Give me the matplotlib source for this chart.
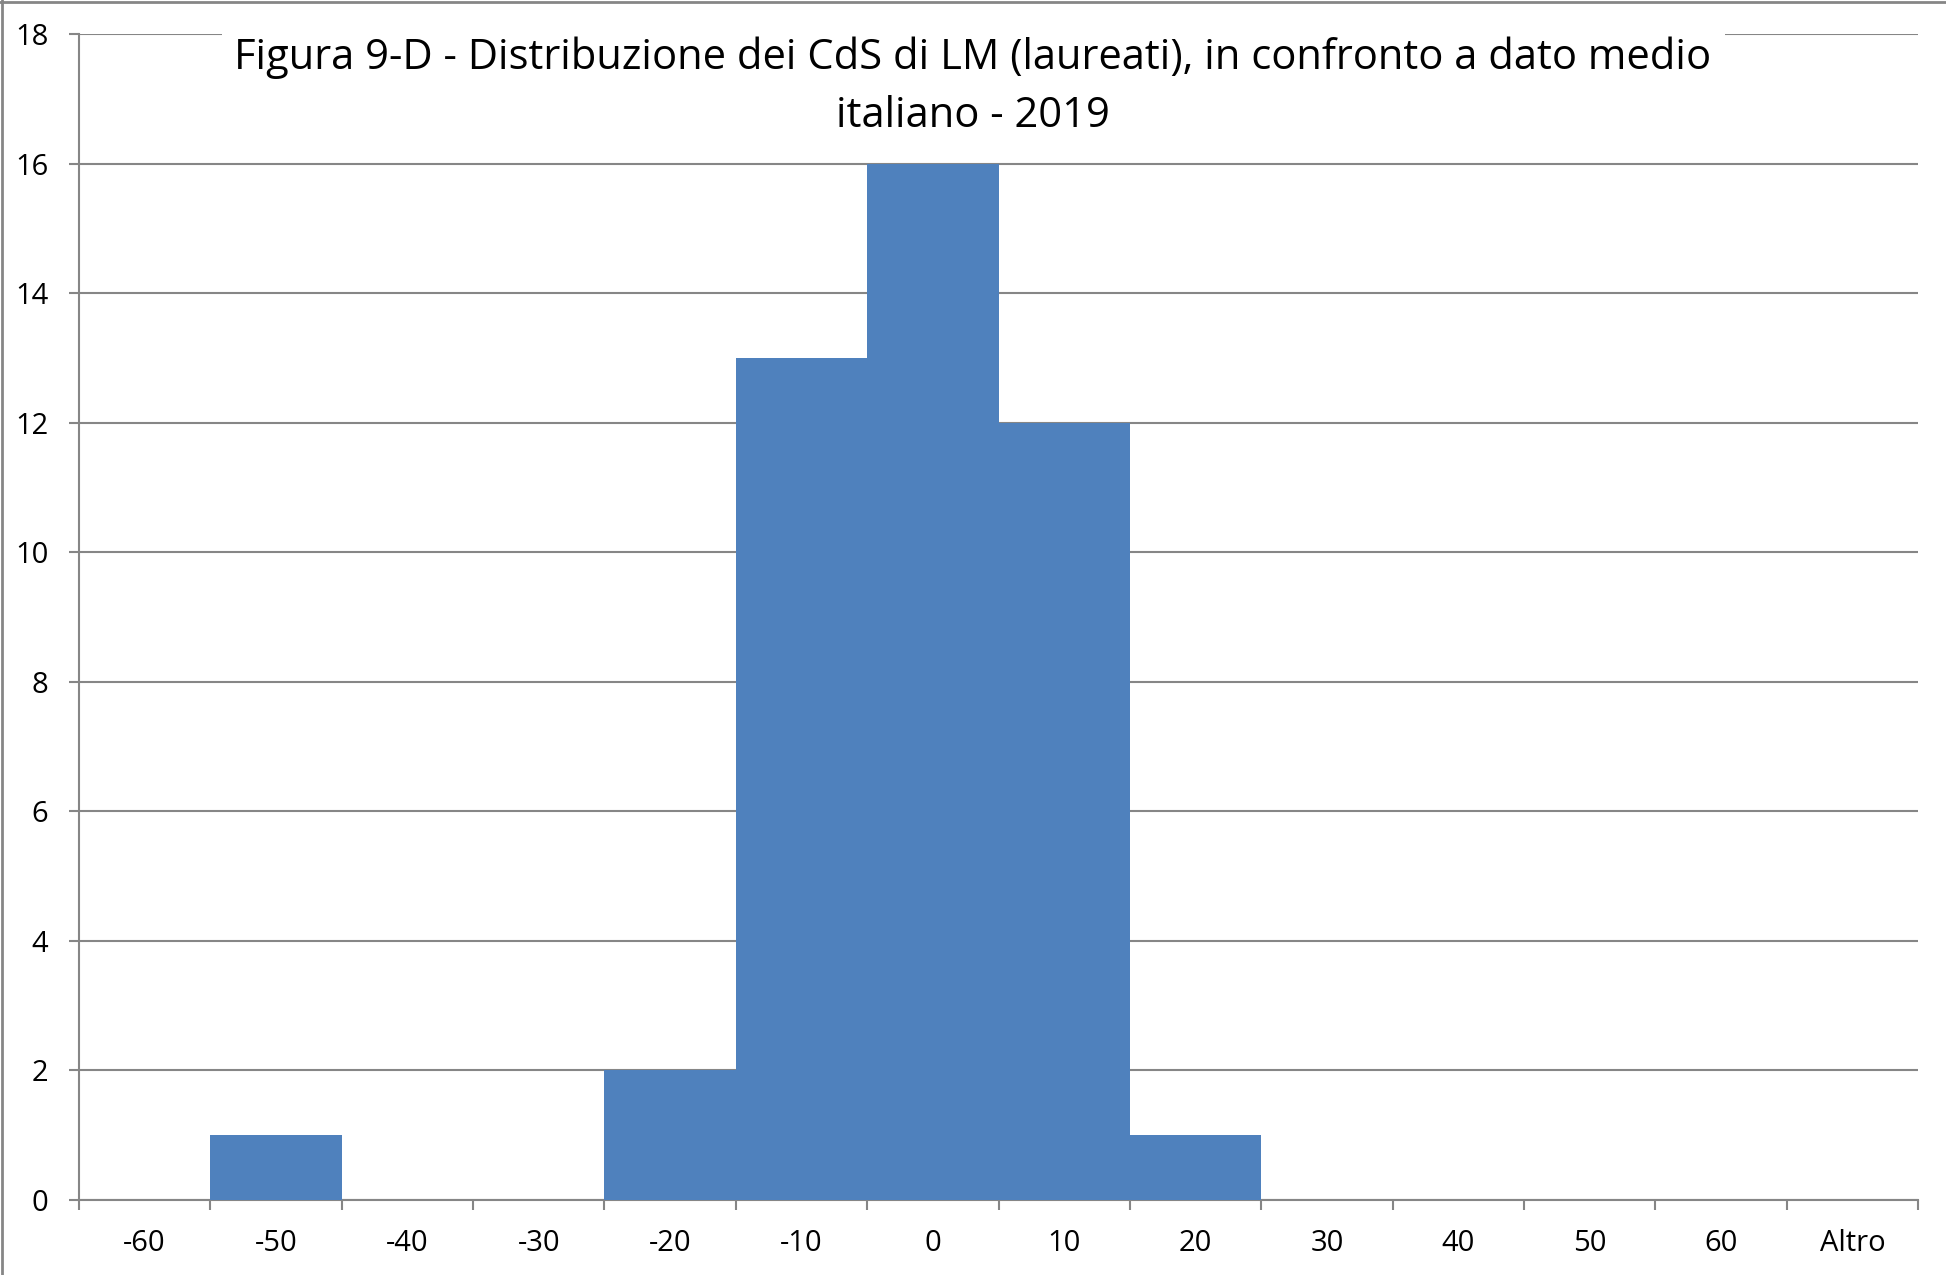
from matplotlib import pyplot as plt
from matplotlib.patches import Rectangle
from matplotlib.lines import Line2D

# dati dell'istogramma
categorie = ['-60', '-50', '-40', '-30', '-20', '-10', '0', '10', '20', '30', '40', '50', '60', 'Altro']
frequenze = [0, 1, 0, 0, 2, 13, 16, 12, 1, 0, 0, 0, 0, 0]
titolo = 'Figura 9-D - Distribuzione dei CdS di LM (laureati), in confronto a dato medio\nitaliano - 2019'

W, H = 1946, 1275
grigio = '#868686'
plt.rcParams['font.family'] = ['Open Sans', 'DejaVu Sans']

fig = plt.figure(figsize=(W / 100, H / 100), dpi=100)
ax = fig.add_axes([79 / W, 1 - 1200 / H, (1918 - 79) / W, (1200 - 34) / H])

x = range(len(categorie))
ax.bar(x, frequenze, width=1.0, color='#4F81BD', zorder=3)

ax.set_xlim(-0.5, len(categorie) - 0.5)
ax.set_ylim(0, 18)
ax.set_yticks(range(0, 19, 2))
ax.yaxis.grid(True, color=grigio, linewidth=1.5, zorder=0)
ax.set_axisbelow(True)

ax.set_xticks(list(x))
ax.set_xticklabels(categorie)
ax.set_xticks([i - 0.5 for i in range(len(categorie) + 1)], minor=True)
ax.tick_params(axis='x', which='major', length=0, pad=21, labelsize=21)
ax.tick_params(axis='x', which='minor', length=7, width=1.5, color=grigio)
ax.tick_params(axis='y', length=7, width=1.5, color=grigio, pad=15, labelsize=21)

for s in ['top', 'right']:
    ax.spines[s].set_visible(False)
for s in ['left', 'bottom']:
    ax.spines[s].set_color(grigio)
    ax.spines[s].set_linewidth(1.5)

# riquadro bianco del titolo sopra la griglia
fig.add_artist(Rectangle((222 / W, 1 - 150 / H), (1725 - 222) / W, 130 / H,
                         transform=fig.transFigure, facecolor='white', edgecolor='none', zorder=5))
fig.text(973 / W, 1 - 87 / H, titolo, ha='center', va='center', fontsize=30,
         linespacing=1.5, zorder=6)

# bordo del grafico
fig.add_artist(Line2D([0, 1], [1 - 2 / H, 1 - 2 / H], color=grigio, linewidth=2, transform=fig.transFigure))
fig.add_artist(Line2D([2 / W, 2 / W], [0, 1], color=grigio, linewidth=2, transform=fig.transFigure))

fig.savefig('out.png', dpi=100)
